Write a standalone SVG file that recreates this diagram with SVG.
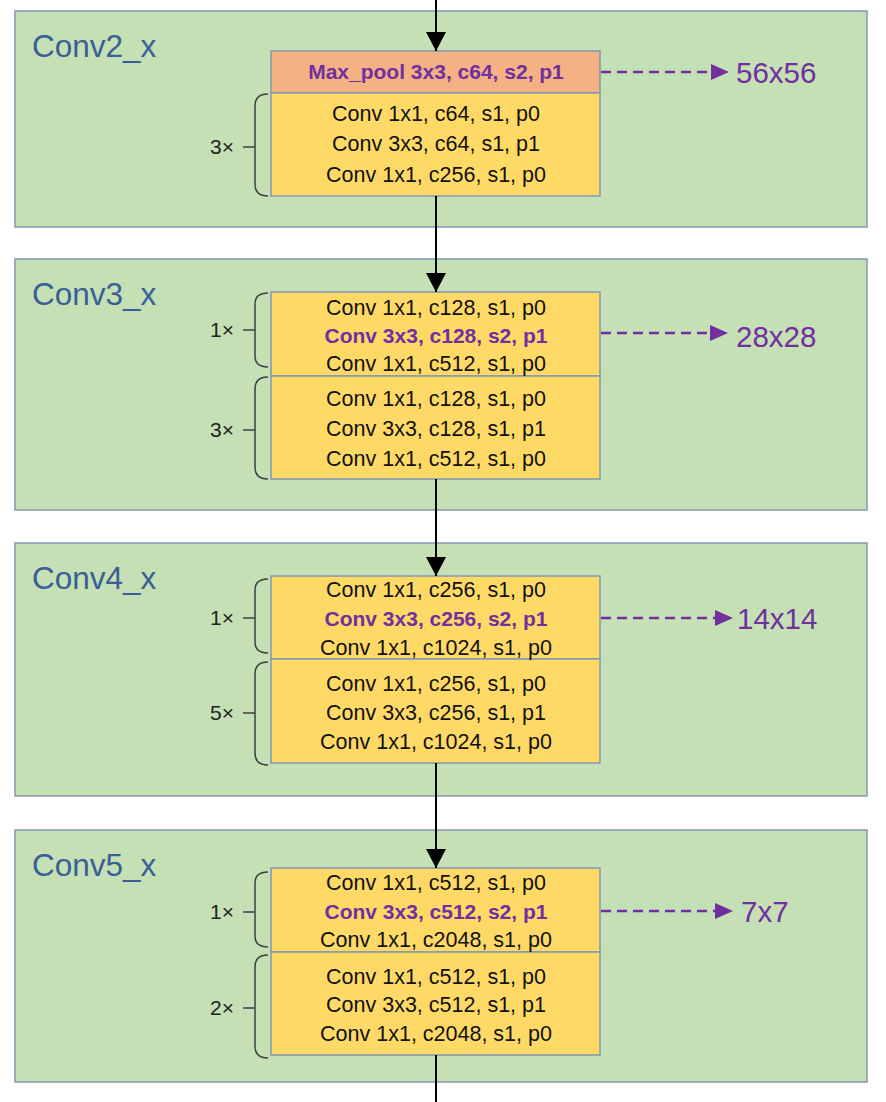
<svg xmlns="http://www.w3.org/2000/svg" width="886" height="1102" viewBox="0 0 886 1102">
<style>
.panel{fill:#C5E0B4;stroke:#8497B0;stroke-width:1.5}
.title{font-family:"Liberation Sans",Arial,sans-serif;font-size:31.5px;fill:#3A5E96}
.yb{fill:#FFD966;stroke:#8497B0;stroke-width:1.5}
.ob{fill:#F4B183;stroke:#8497B0;stroke-width:1.5}
.t{font-family:"Liberation Sans",Arial,sans-serif;font-size:21.5px;fill:#111;text-anchor:middle}
.tb{font-family:"Liberation Sans",Arial,sans-serif;font-size:21px;font-weight:bold;fill:#7030A0;text-anchor:middle}
.brace{fill:none;stroke:#3F3F3F;stroke-width:1.5}
.rep{font-family:"Liberation Sans",Arial,sans-serif;font-size:21px;fill:#222;text-anchor:end}
.flow{stroke:#000;stroke-width:2;fill:none}
.dash{stroke:#7030A0;stroke-width:2.4;stroke-dasharray:10 6;fill:none}
.size{font-family:"Liberation Sans",Arial,sans-serif;font-size:29.5px;fill:#7030A0}
.tri{fill:#7030A0}
</style>
<defs>
<marker id="ah" markerUnits="userSpaceOnUse" markerWidth="20" markerHeight="20" viewBox="0 0 20 20" refX="19" refY="10" orient="auto">
<path d="M0,0 L19,10 L0,20 Z" fill="#000"/>
</marker>
</defs>

<g id="conv2">
<rect class="panel" x="15" y="11" width="852" height="216"/>
<text class="title" x="32" y="57">Conv2_x</text>
<rect class="ob" x="271" y="51" width="329" height="42"/>
<text class="tb" x="436" y="79">Max_pool 3x3, c64, s2, p1</text>
<rect class="yb" x="271" y="93" width="329" height="103"/>
<text class="t" x="436" y="121">Conv 1x1, c64, s1, p0</text>
<text class="t" x="436" y="151">Conv 3x3, c64, s1, p1</text>
<text class="t" x="436" y="182">Conv 1x1, c256, s1, p0</text>
<path class="brace" d="M268,94 Q255,94 255,106 L255,184 Q255,196 268,196 M243,147 L255,147"/>
<text class="rep" x="234" y="154">3×</text>
</g>

<g id="conv3">
<rect class="panel" x="15" y="259" width="852" height="251"/>
<text class="title" x="32" y="305">Conv3_x</text>
<rect class="yb" x="271" y="292" width="329" height="84"/>
<rect class="yb" x="271" y="376" width="329" height="103"/>
<text class="t" x="436" y="315">Conv 1x1, c128, s1, p0</text>
<text class="tb" x="436" y="343">Conv 3x3, c128, s2, p1</text>
<text class="t" x="436" y="371">Conv 1x1, c512, s1, p0</text>
<text class="t" x="436" y="406">Conv 1x1, c128, s1, p0</text>
<text class="t" x="436" y="436">Conv 3x3, c128, s1, p1</text>
<text class="t" x="436" y="466">Conv 1x1, c512, s1, p0</text>
<path class="brace" d="M268,293 Q255,293 255,304 L255,356 Q255,367 268,367 M243,330 L255,330"/>
<path class="brace" d="M268,377 Q255,377 255,389 L255,467 Q255,479 268,479 M243,430 L255,430"/>
<text class="rep" x="234" y="337">1×</text>
<text class="rep" x="234" y="437">3×</text>
</g>

<g id="conv4">
<rect class="panel" x="15" y="543" width="852" height="253"/>
<text class="title" x="32" y="589">Conv4_x</text>
<rect class="yb" x="271" y="576" width="329" height="83"/>
<rect class="yb" x="271" y="659" width="329" height="104"/>
<text class="t" x="436" y="597">Conv 1x1, c256, s1, p0</text>
<text class="tb" x="436" y="626">Conv 3x3, c256, s2, p1</text>
<text class="t" x="436" y="655">Conv 1x1, c1024, s1, p0</text>
<text class="t" x="436" y="691">Conv 1x1, c256, s1, p0</text>
<text class="t" x="436" y="720">Conv 3x3, c256, s1, p1</text>
<text class="t" x="436" y="749">Conv 1x1, c1024, s1, p0</text>
<path class="brace" d="M268,579 Q255,579 255,590 L255,642 Q255,653 268,653 M243,618 L255,618"/>
<path class="brace" d="M268,662 Q255,662 255,674 L255,753 Q255,765 268,765 M243,713 L255,713"/>
<text class="rep" x="234" y="625">1×</text>
<text class="rep" x="234" y="720">5×</text>
</g>

<g id="conv5">
<rect class="panel" x="15" y="830" width="852" height="252"/>
<text class="title" x="32" y="876">Conv5_x</text>
<rect class="yb" x="271" y="868" width="329" height="84"/>
<rect class="yb" x="271" y="952" width="329" height="103"/>
<text class="t" x="436" y="890">Conv 1x1, c512, s1, p0</text>
<text class="tb" x="436" y="919">Conv 3x3, c512, s2, p1</text>
<text class="t" x="436" y="947">Conv 1x1, c2048, s1, p0</text>
<text class="t" x="436" y="984">Conv 1x1, c512, s1, p0</text>
<text class="t" x="436" y="1012">Conv 3x3, c512, s1, p1</text>
<text class="t" x="436" y="1041">Conv 1x1, c2048, s1, p0</text>
<path class="brace" d="M268,872 Q255,872 255,883 L255,936 Q255,947 268,947 M243,912 L255,912"/>
<path class="brace" d="M268,955 Q255,955 255,967 L255,1046 Q255,1058 268,1058 M243,1008 L255,1008"/>
<text class="rep" x="234" y="919">1×</text>
<text class="rep" x="234" y="1015">2×</text>
</g>

<g id="connectors">
<line class="flow" x1="436" y1="0" x2="436" y2="51" marker-end="url(#ah)"/>
<line class="flow" x1="436" y1="196" x2="436" y2="292" marker-end="url(#ah)"/>
<line class="flow" x1="436" y1="479" x2="436" y2="576" marker-end="url(#ah)"/>
<line class="flow" x1="436" y1="763" x2="436" y2="868" marker-end="url(#ah)"/>
<line class="flow" x1="436" y1="1055" x2="436" y2="1102"/>

<line class="dash" x1="601" y1="72" x2="711" y2="72"/>
<path class="tri" d="M711,64 L729,72 L711,80 Z"/>
<text class="size" x="736" y="83">56x56</text>

<line class="dash" x1="601" y1="333" x2="710" y2="333"/>
<path class="tri" d="M710,325 L728,333 L710,341 Z"/>
<text class="size" x="736" y="347">28x28</text>

<line class="dash" x1="601" y1="618" x2="715" y2="618"/>
<path class="tri" d="M715,610 L733,618 L715,626 Z"/>
<text class="size" x="737" y="629">14x14</text>

<line class="dash" x1="601" y1="911" x2="715" y2="911"/>
<path class="tri" d="M715,903 L733,911 L715,919 Z"/>
<text class="size" x="741" y="922">7x7</text>
</g>
</svg>
